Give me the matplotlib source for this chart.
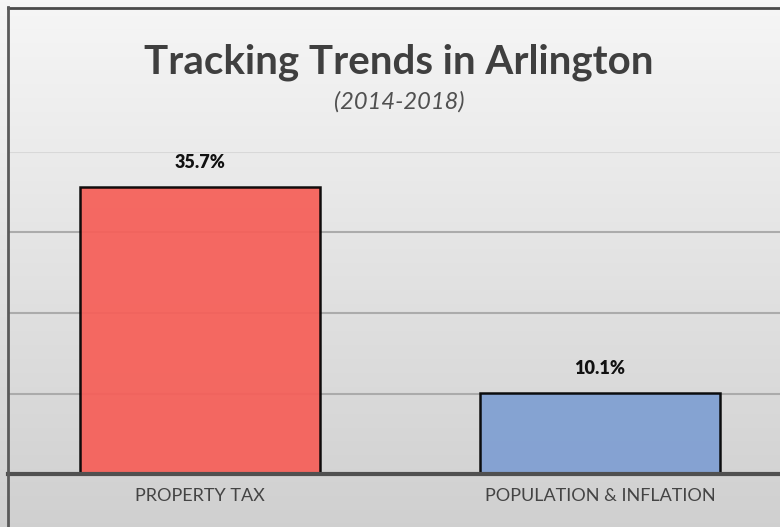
import numpy as np
import matplotlib
matplotlib.use("Agg")
import matplotlib.pyplot as plt
from matplotlib.lines import Line2D

# Chart data
categories = ["PROPERTY TAX", "POPULATION & INFLATION"]
values = [35.7, 10.1]
value_labels = ["35.7%", "10.1%"]
bar_colors = ["#f65f58", "#7f9fd2"]
grid_levels = [10, 20, 30, 40]

W, H = 780, 527
fig = plt.figure(figsize=(W / 100, H / 100), dpi=100)
FONT = "Lato"

# Soft vertical gradient behind everything
bg = fig.add_axes([0, 0, 1, 1], zorder=-10)
t = np.linspace(0, 1, 256)[:, None, None]
top_c = np.array([0.965, 0.965, 0.965])[None, None, :]
bot_c = np.array([0.815, 0.815, 0.815])[None, None, :]
img = top_c + (bot_c - top_c) * t
bg.imshow(img, aspect="auto", extent=[0, 1, 0, 1], origin="upper")
bg.set_xlim(0, 1)
bg.set_ylim(0, 1)
bg.axis("off")

# Frame edges (top and left)
px = lambda x: x / W
py = lambda y: 1 - y / H
fig.add_artist(Line2D([px(8), 1], [py(7.5), py(7.5)], color="#4a4a4a",
                      lw=2.0, transform=fig.transFigure))
fig.add_artist(Line2D([px(8), px(8)], [py(7), 0], color="#5a5a5a",
                      lw=2.0, transform=fig.transFigure))

# Plot area
ax_left, ax_right = 8, 780
ax_top, ax_bottom = 152, 474
ax = fig.add_axes([px(ax_left), py(ax_bottom), px(ax_right - ax_left),
                   (ax_bottom - ax_top) / H])
ax.patch.set_alpha(0)
x = np.arange(len(categories))
ax.set_xlim(-0.48, 1.45)
ax.set_ylim(0, 40)

for lvl in grid_levels:
    col = "#d8d8d8" if lvl == 40 else "#ababab"
    ax.axhline(lvl, color=col, lw=1.5, zorder=1)

bars = ax.bar(x, values, width=0.6, color=bar_colors, alpha=0.93,
              edgecolor="black", linewidth=1.8, zorder=2)

for xi, v, lab in zip(x, values, value_labels):
    ax.annotate(lab, (xi, v), xytext=(0, 11), textcoords="offset points",
                ha="center", va="bottom", fontsize=13, fontweight="heavy",
                family=FONT, color="#111111")

for s in ["top", "right", "left"]:
    ax.spines[s].set_visible(False)
ax.spines["bottom"].set_color("#505050")
ax.spines["bottom"].set_linewidth(3)
ax.spines["bottom"].set_zorder(3)
ax.set_yticks([])
ax.set_xticks(x)
ax.set_xticklabels(categories, family=FONT, fontsize=13,
                   color="#444444")
ax.tick_params(axis="x", length=0, pad=10)

# Titles
fig.text(px(399), py(62), "Tracking Trends in Arlington", ha="center",
         va="center", fontsize=29, fontweight="bold", family=FONT,
         color="#3f3f3f")
fig.text(px(399), py(102), "(2014-2018)", ha="center", va="center",
         fontsize=17, style="italic", family=FONT, color="#505050")

fig.savefig("out.png", dpi=100)
